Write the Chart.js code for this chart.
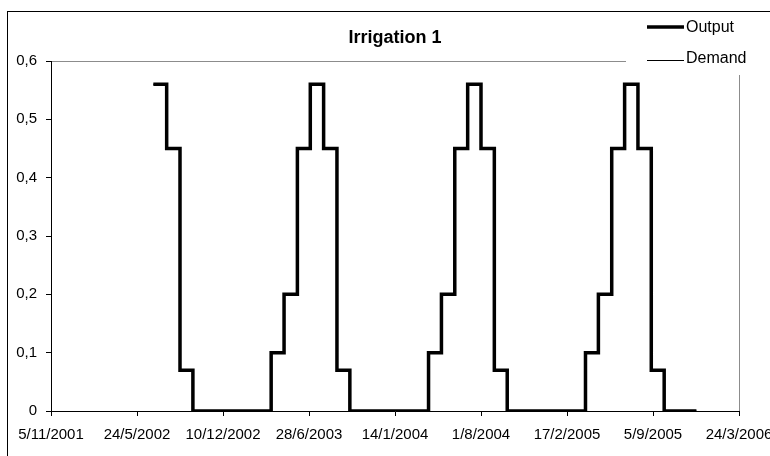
<!DOCTYPE html>
<html>
<head>
<meta charset="utf-8">
<script src="https://cdn.jsdelivr.net/npm/chart.js@4.4.0/dist/chart.umd.min.js"></script>
<style>
  html, body { margin: 0; padding: 0; background: #fff; overflow: hidden; }
  #frame { position: absolute; left: 7px; top: 11px; width: 1000px; height: 1000px; border-left: 1px solid #000; border-top: 1px solid #000; }
  #myChart { position: absolute; left: 0; top: 0; }
</style>
</head>
<body>
<div id="frame"></div>
<canvas id="myChart" width="770" height="456"></canvas>
<script>
// tick labels of the two axes
const xTickLabels = ['5/11/2001', '24/5/2002', '10/12/2002', '28/6/2003', '14/1/2004', '1/8/2004', '17/2/2005', '5/9/2005', '24/3/2006'];
const yTickLabels = ['0', '0,1', '0,2', '0,3', '0,4', '0,5', '0,6'];

// monthly steps (value holds until the next date)
const dates = [
  '1/7/2002', '1/8/2002', '1/9/2002', '1/10/2002', '1/11/2002', '1/12/2002',
  '1/1/2003', '1/2/2003', '1/3/2003', '1/4/2003', '1/5/2003', '1/6/2003',
  '1/7/2003', '1/8/2003', '1/9/2003', '1/10/2003', '1/11/2003', '1/12/2003',
  '1/1/2004', '1/2/2004', '1/3/2004', '1/4/2004', '1/5/2004', '1/6/2004',
  '1/7/2004', '1/8/2004', '1/9/2004', '1/10/2004', '1/11/2004', '1/12/2004',
  '1/1/2005', '1/2/2005', '1/3/2005', '1/4/2005', '1/5/2005', '1/6/2005',
  '1/7/2005', '1/8/2005', '1/9/2005', '1/10/2005', '1/11/2005', '1/12/2005',
  '15/12/2005'
];
const outputValues = [
  0.56, 0.45, 0.07, 0, 0, 0,
  0, 0, 0, 0.1, 0.2, 0.45,
  0.56, 0.45, 0.07, 0, 0, 0,
  0, 0, 0, 0.1, 0.2, 0.45,
  0.56, 0.45, 0.07, 0, 0, 0,
  0, 0, 0, 0.1, 0.2, 0.45,
  0.56, 0.45, 0.07, 0, 0, 0,
  0
];
const demandValues = [
  0.56, 0.45, 0.07, 0, 0, 0,
  0, 0, 0, 0.1, 0.2, 0.45,
  0.56, 0.45, 0.07, 0, 0, 0,
  0, 0, 0, 0.1, 0.2, 0.45,
  0.56, 0.45, 0.07, 0, 0, 0,
  0, 0, 0, 0.1, 0.2, 0.45,
  0.56, 0.45, 0.07, 0, 0, 0,
  0
];

function dayNum(s) {
  const [d, m, y] = s.split('/').map(Number);
  return Date.UTC(y, m - 1, d) / 86400000;
}

Chart.defaults.font.family = '"Liberation Sans", Arial, sans-serif';
Chart.defaults.color = '#000';

// grey border of the plot area (axes are drawn over it in black)
const plotFrame = {
  id: 'plotFrame',
  beforeDraw(chart) {
    const { ctx, chartArea: a } = chart;
    ctx.save();
    ctx.strokeStyle = '#8c8c8c';
    ctx.lineWidth = 1;
    ctx.strokeRect(Math.round(a.left) + 0.5, Math.round(a.top) + 0.5, Math.round(a.right - a.left), Math.round(a.bottom - a.top));
    ctx.restore();
  }
};

// legend box at the top right, like the spreadsheet one
const sideLegend = {
  id: 'sideLegend',
  afterDraw(chart) {
    const ctx = chart.ctx;
    ctx.save();
    ctx.fillStyle = '#fff';
    ctx.fillRect(626, 13, 144, 62);
    ctx.font = '16px "Liberation Sans", Arial, sans-serif';
    ctx.textBaseline = 'alphabetic';
    const rows = [{ line: 27, text: 32 }, { line: 60, text: 63 }];
    chart.data.datasets.forEach((ds, i) => {
      ctx.strokeStyle = ds.borderColor;
      ctx.lineWidth = ds.borderWidth;
      ctx.beginPath();
      ctx.moveTo(647, rows[i].line + (ds.borderWidth === 1 ? 0.5 : 0));
      ctx.lineTo(684, rows[i].line + (ds.borderWidth === 1 ? 0.5 : 0));
      ctx.stroke();
      ctx.fillStyle = '#000';
      ctx.fillText(ds.label, 686, rows[i].text);
    });
    ctx.restore();
  }
};

const ctx = document.getElementById('myChart');

new Chart(ctx, {
  type: 'line',
  data: {
    datasets: [
      {
        label: 'Output',
        data: dates.map((d, i) => ({ x: dayNum(d), y: outputValues[i] })),
        borderColor: '#000',
        borderWidth: 3.5,
        borderJoinStyle: 'miter',
        pointRadius: 0,
        stepped: true,
        fill: false
      },
      {
        label: 'Demand',
        data: dates.map((d, i) => ({ x: dayNum(d), y: demandValues[i] })),
        borderColor: '#000',
        borderWidth: 1,
        pointRadius: 0,
        stepped: true,
        fill: false
      }
    ]
  },
  options: {
    responsive: false,
    animation: false,
    layout: { padding: { left: 0, right: 31, top: 0, bottom: 0 } },
    plugins: {
      legend: { display: false },
      tooltip: { enabled: false },
      title: {
        display: true,
        fullSize: false,
        text: 'Irrigation 1',
        color: '#000',
        font: { size: 18, weight: 'bold' },
        padding: { top: 27, bottom: 12.4 }
      }
    },
    scales: {
      x: {
        type: 'linear',
        min: dayNum(xTickLabels[0]),
        max: dayNum(xTickLabels[xTickLabels.length - 1]),
        afterBuildTicks: s => { s.ticks = xTickLabels.map(t => ({ value: dayNum(t) })); },
        afterFit: s => { s.height = 45; s.paddingLeft = 0; s.paddingRight = 0; },
        grid: { display: true, drawOnChartArea: false, drawTicks: true, tickLength: 5, color: '#000' },
        border: { display: true, color: '#000' },
        ticks: {
          autoSkip: false,
          maxRotation: 0,
          padding: 10,
          color: '#000',
          font: { size: 15 },
          callback: (v, i) => xTickLabels[i]
        }
      },
      y: {
        min: 0,
        max: 0.6,
        afterBuildTicks: s => { s.ticks = yTickLabels.map(t => ({ value: parseFloat(t.replace(',', '.')) })); },
        afterFit: s => { s.width = 51; s.paddingTop = 0; s.paddingBottom = 0; },
        grid: { display: true, drawOnChartArea: false, drawTicks: true, tickLength: 5, color: '#000' },
        border: { display: true, color: '#000' },
        ticks: {
          padding: 9,
          color: '#000',
          font: { size: 15 },
          callback: (v, i) => yTickLabels[i]
        }
      }
    }
  },
  plugins: [plotFrame, sideLegend]
});
</script>
</body>
</html>
